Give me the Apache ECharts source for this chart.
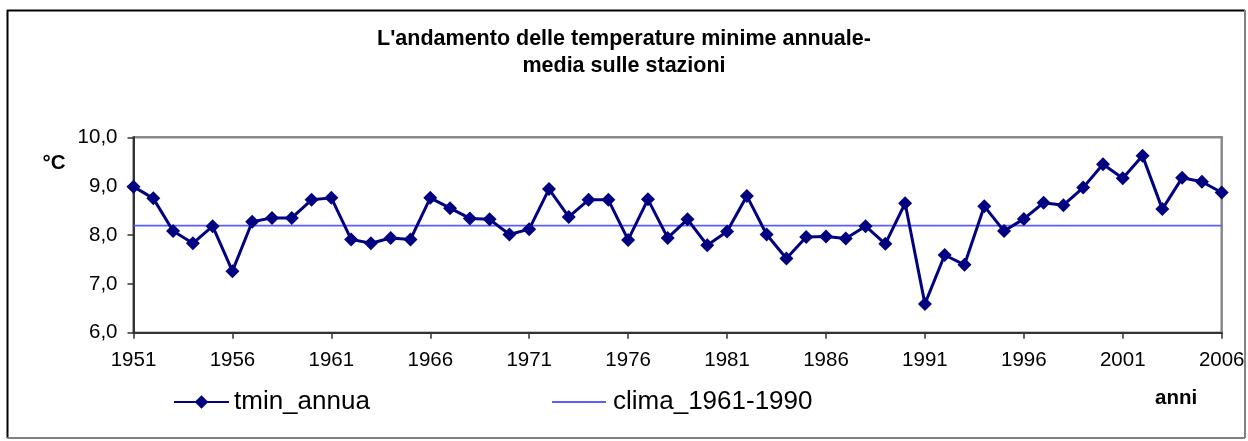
<!DOCTYPE html>
<html>
<head>
<meta charset="utf-8">
<script src="https://cdn.jsdelivr.net/npm/echarts@6/dist/echarts.min.js"></script>
<style>
  html, body { margin: 0; padding: 0; background: #fff; }
  #chart { width: 1248px; height: 441px; }
</style>
</head>
<body>
<div id="chart"></div>
<script>
// Years on the category axis
const years = [
  '1951','1952','1953','1954','1955','1956','1957','1958','1959','1960',
  '1961','1962','1963','1964','1965','1966','1967','1968','1969','1970',
  '1971','1972','1973','1974','1975','1976','1977','1978','1979','1980',
  '1981','1982','1983','1984','1985','1986','1987','1988','1989','1990',
  '1991','1992','1993','1994','1995','1996','1997','1998','1999','2000',
  '2001','2002','2003','2004','2005','2006'
];

// Annual minimum temperature, averaged over the stations (°C)
const tminAnnua = [
  8.99, 8.75, 8.08, 7.83, 8.18, 7.26, 8.27, 8.35, 8.35, 8.72,
  8.76, 7.91, 7.83, 7.94, 7.91, 8.76, 8.55, 8.34, 8.32, 8.01,
  8.12, 8.94, 8.37, 8.72, 8.72, 7.90, 8.73, 7.94, 8.32, 7.79,
  8.07, 8.80, 8.01, 7.52, 7.96, 7.97, 7.93, 8.18, 7.82, 8.65,
  6.59, 7.59, 7.39, 8.59, 8.08, 8.33, 8.66, 8.61, 8.97, 9.45,
  9.16, 9.62, 8.53, 9.17, 9.09, 8.87
];

// Climatological reference value 1961-1990 (°C)
const climaValue = 8.19;
const clima = years.map(() => climaValue);

// Y axis range and step
const yMin = 6;
const yMax = 10;
const yStep = 1;

const FONT = 'Liberation Sans, Arial, sans-serif';
const NAVY = '#000080';
const CLIMA_BLUE = '#5c5cff';

const chart = echarts.init(document.getElementById('chart'), null, { renderer: 'canvas' });

chart.setOption({
  animation: false,
  backgroundColor: '#ffffff',
  title: {
    text: "L'andamento delle temperature minime annuale-\nmedia sulle stazioni",
    left: 'center',
    top: 26,
    padding: 0,
    textStyle: {
      fontFamily: FONT,
      fontSize: 21.5,
      fontWeight: 'bold',
      color: '#000',
      lineHeight: 27
    }
  },
  legend: [
    {
      data: [{ name: 'tmin_annua' }],
      left: 173,
      top: 389,
      padding: 0,
      itemWidth: 55,
      itemHeight: 17,
      textStyle: { fontFamily: FONT, fontSize: 26, color: '#000' }
    },
    {
      data: [{ name: 'clima_1961-1990', icon: 'rect' }],
      left: 552,
      top: 389,
      padding: 0,
      itemWidth: 54,
      itemHeight: 1.8,
      textStyle: { fontFamily: FONT, fontSize: 26, color: '#000', padding: [0, 0, 0, 2] }
    }
  ],
  grid: {
    left: 133.5,
    right: 26.3,
    top: 137.3,
    bottom: 108.3,
    show: true,
    borderColor: '#8a8a8a',
    borderWidth: 2.5,
    backgroundColor: '#fff'
  },
  xAxis: {
    type: 'category',
    data: years,
    boundaryGap: false,
    axisLine: { lineStyle: { color: '#333', width: 2 } },
    axisTick: { show: true, interval: 4, length: 6, lineStyle: { color: '#333', width: 1.5 } },
    axisLabel: {
      interval: 4,
      margin: 17,
      fontFamily: FONT,
      fontSize: 20.5,
      color: '#000'
    },
    splitLine: { show: false }
  },
  yAxis: {
    type: 'value',
    min: yMin,
    max: yMax,
    interval: yStep,
    axisLine: { show: true, lineStyle: { color: '#333', width: 2 } },
    axisTick: { show: true, length: 6, lineStyle: { color: '#333', width: 1.5 } },
    axisLabel: {
      margin: 16,
      fontFamily: FONT,
      fontSize: 20.5,
      color: '#000',
      formatter: v => v.toFixed(1).replace('.', ',')
    },
    splitLine: { show: false }
  },
  graphic: [
    // chart frame
    { type: 'line', shape: { x1: 7, y1: 10.5, x2: 1245, y2: 10.5 }, style: { stroke: '#000', lineWidth: 2 }, z: 100 },
    { type: 'line', shape: { x1: 7.5, y1: 10, x2: 7.5, y2: 438 }, style: { stroke: '#000', lineWidth: 2 }, z: 100 },
    { type: 'line', shape: { x1: 1245, y1: 10, x2: 1245, y2: 438 }, style: { stroke: '#808080', lineWidth: 2 }, z: 100 },
    { type: 'line', shape: { x1: 7, y1: 438, x2: 1245, y2: 438 }, style: { stroke: '#808080', lineWidth: 2 }, z: 100 },
    {
      type: 'text',
      style: { text: '°C', x: 54, y: 163, textAlign: 'center', textVerticalAlign: 'middle',
        fontFamily: FONT, fontSize: 20.5, fontWeight: 'bold', fill: '#000' }
    },
    {
      type: 'text',
      style: { text: 'anni', x: 1155, y: 398, textAlign: 'left', textVerticalAlign: 'middle',
        fontFamily: FONT, fontSize: 20.5, fontWeight: 'bold', fill: '#000' }
    }
  ],
  series: [
    {
      name: 'clima_1961-1990',
      type: 'line',
      data: clima,
      symbol: 'none',
      lineStyle: { color: CLIMA_BLUE, width: 1.8 },
      itemStyle: { color: CLIMA_BLUE },
      z: 2
    },
    {
      name: 'tmin_annua',
      type: 'line',
      data: tminAnnua,
      symbol: 'diamond',
      symbolSize: 14,
      showAllSymbol: true,
      lineStyle: { color: NAVY, width: 3 },
      itemStyle: { color: NAVY },
      z: 3
    }
  ]
});
</script>
</body>
</html>
